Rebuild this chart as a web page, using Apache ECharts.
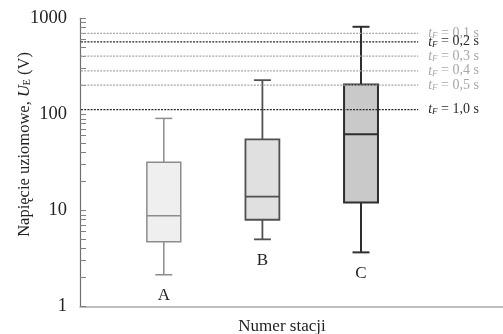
<!DOCTYPE html>
<html>
<head>
<meta charset="utf-8">
<script src="https://cdn.jsdelivr.net/npm/echarts@6/dist/echarts.min.js"></script>
<style>
  html, body { margin: 0; padding: 0; background: #fff; }
  #chart { width: 503px; height: 334px; }
</style>
</head>
<body>
<div id="chart"></div>
<script>
// Earth potential rise per station: whiskers, quartiles and median (V)
const stations = ['A', 'B', 'C'];
const stationPos = [1, 2, 3];
const whiskerLow = [2.14, 5.0, 3.66];
const quartile1 = [4.72, 8.0, 12.1];
const medians = [8.8, 13.9, 62];
const quartile3 = [31.7, 55, 205];
const whiskerHigh = [90.8, 227, 816];

// Permissible voltage for each fault duration t_F
const faultTimes = ['0,1', '0,2', '0,3', '0,4', '0,5', '1,0'];
const limitVoltages = [697, 569, 404, 284, 202, 112];
const emphasised = [false, true, false, false, false, true];

// Axis ticks
const yTickValues = [1, 10, 100, 1000];
const yMinorTicks = [2, 3, 4, 5, 6, 7, 8, 9, 20, 30, 40, 50, 60, 70, 80, 90, 200, 300, 400, 500, 600, 700, 800, 900];

// Styling per station
const boxFill = ['#efefef', '#e0e0e0', '#c9c9c9'];
const boxStroke = ['#8c8c8c', '#505050', '#2e2e2e'];
const boxLineWidth = [1.5, 1.8, 2];

const FONT = '"Liberation Serif", "DejaVu Serif", serif';
const X_MIN = 0.15, X_MAX = 4.44, LINE_END = 3.58;

const boxData = stations.map((s, i) => [stationPos[i], whiskerLow[i], quartile1[i], medians[i], quartile3[i], whiskerHigh[i]]);
const limitData = limitVoltages.map((v, i) => [LINE_END, v]);
const allTicks = yTickValues.concat(yMinorTicks).sort((a, b) => a - b);

const chart = echarts.init(document.getElementById('chart'), null, { renderer: 'canvas' });

chart.setOption({
  animation: false,
  backgroundColor: '#fff',
  grid: { left: 80, right: 0, top: 18.3, bottom: 27.5, outerBoundsMode: 'none', containLabel: false },
  xAxis: {
    type: 'value',
    min: X_MIN,
    max: X_MAX,
    axisLine: { show: true, onZero: false, lineStyle: { color: '#a8a8a8', width: 1.6 } },
    axisTick: { show: false },
    axisLabel: { show: false },
    splitLine: { show: false },
    name: 'Numer stacji',
    nameLocation: 'middle',
    nameGap: 12,
    nameMoveOverlap: false,
    nameTextStyle: { fontFamily: FONT, fontSize: 17, color: '#222', padding: [0, 19, 0, 0] }
  },
  yAxis: {
    type: 'log',
    logBase: 10,
    min: 1,
    max: 1000,
    axisLine: { show: true, onZero: false, lineStyle: { color: '#707070', width: 1.2 } },
    axisTick: { show: true, inside: true, length: 6, customValues: allTicks, lineStyle: { color: '#808080', width: 1 } },
    axisLabel: {
      customValues: yTickValues, margin: 13,
      fontFamily: FONT, fontSize: 18.5, color: '#222',
      formatter: v => String(v)
    },
    splitLine: { show: false },
    name: 'Napięcie uziomowe, {u|U}{e|E} (V)',
    nameLocation: 'middle',
    nameGap: 47,
    nameMoveOverlap: false,
    nameTextStyle: {
      fontFamily: FONT, fontSize: 16.5, color: '#222', padding: [0, 0, 0, 36],
      rich: {
        u: { fontFamily: FONT, fontSize: 16.5, fontStyle: 'italic', color: '#222' },
        e: { fontFamily: FONT, fontSize: 10, color: '#222', padding: [6, 0, 0, 0] }
      }
    }
  },
  series: [
    {
      type: 'custom',
      name: 'stations',
      z: 2,
      data: boxData,
      renderItem(params, api) {
        const i = params.dataIndex;
        const x = api.value(0);
        const lo = api.coord([x, api.value(1)]);
        const q1 = api.coord([x, api.value(2)]);
        const md = api.coord([x, api.value(3)]);
        const q3 = api.coord([x, api.value(4)]);
        const hi = api.coord([x, api.value(5)]);
        const hw = api.coord([x + 0.172, api.value(3)])[0] - md[0];
        const cw = hw / 2;
        const stroke = { stroke: boxStroke[i], lineWidth: boxLineWidth[i], fill: null };
        return {
          type: 'group',
          children: [
            { type: 'line', shape: { x1: lo[0], y1: lo[1], x2: q1[0], y2: q1[1] }, style: stroke },
            { type: 'line', shape: { x1: q3[0], y1: q3[1], x2: hi[0], y2: hi[1] }, style: stroke },
            { type: 'line', shape: { x1: lo[0] - cw, y1: lo[1], x2: lo[0] + cw, y2: lo[1] }, style: stroke },
            { type: 'line', shape: { x1: hi[0] - cw, y1: hi[1], x2: hi[0] + cw, y2: hi[1] }, style: stroke },
            {
              type: 'rect',
              shape: { x: q3[0] - hw, y: q3[1], width: 2 * hw, height: q1[1] - q3[1] },
              style: { fill: boxFill[i], stroke: boxStroke[i], lineWidth: boxLineWidth[i] }
            },
            { type: 'line', shape: { x1: md[0] - hw, y1: md[1], x2: md[0] + hw, y2: md[1] }, style: stroke },
            {
              type: 'text',
              style: {
                text: stations[i], x: lo[0], y: lo[1] + 21,
                align: 'center', verticalAlign: 'middle',
                font: '17px ' + FONT, fill: '#222'
              }
            }
          ]
        };
      }
    },
    {
      type: 'custom',
      name: 'limits',
      z: 3,
      data: limitData,
      renderItem(params, api) {
        const i = params.dataIndex;
        const v = api.value(1);
        const p1 = api.coord([X_MIN, v]);
        const p2 = api.coord([api.value(0), v]);
        const col = emphasised[i] ? '#2a2a2a' : '#a8a8a8';
        return {
          type: 'group',
          children: [
            {
              type: 'line',
              shape: { x1: p1[0] + 1, y1: p1[1], x2: p2[0], y2: p2[1] },
              style: { stroke: col, lineWidth: 1.2, lineDash: [2, 1.2] }
            },
            {
              type: 'text',
              style: {
                text: '{t|t}{f|F} = ' + faultTimes[i] + ' s',
                x: p2[0] + 10, y: p2[1],
                align: 'left', verticalAlign: 'middle',
                font: '14px ' + FONT, fill: col,
                rich: {
                  t: { fontFamily: FONT, fontSize: 14, fontStyle: 'italic', color: col },
                  f: { fontFamily: FONT, fontSize: 9, fontStyle: 'italic', color: col, padding: [5, 0, 0, 0] }
                }
              }
            }
          ]
        };
      }
    }
  ]
});
</script>
</body>
</html>
